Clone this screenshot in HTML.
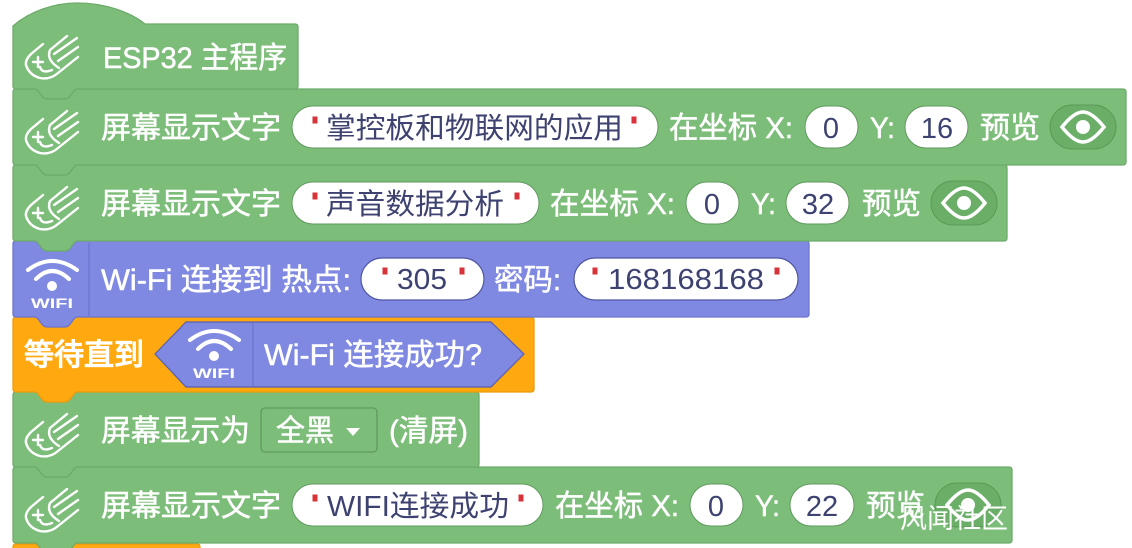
<!DOCTYPE html>
<html><head><meta charset="utf-8"><style>
html,body{margin:0;padding:0;background:#fff;width:1132px;height:548px;overflow:hidden}
svg{display:block}
text{font-family:"Liberation Sans","Noto Sans CJK SC",sans-serif}
.t{fill:#fff;font-size:30px;stroke:#fff;stroke-width:.5}
.v{fill:#3d4270;font-size:29px}
.g{fill:#7dbd7a;stroke:#6dab6b;stroke-width:1.3}
.p{fill:#7f89e2;stroke:#6c75cc;stroke-width:1.3}
.o{fill:#ffa80f;stroke:#ea9b0d;stroke-width:1.3}
.pill{fill:#fff;stroke:#5f9a5e;stroke-width:1}
.pp{fill:#fff;stroke:#4f56a0;stroke-width:1.2}
.q{fill:#d8333a}
</style></head><body>
<svg width="1132" height="548" viewBox="0 0 1132 548" xmlns="http://www.w3.org/2000/svg">
<defs>
<g id="met" fill="none" stroke="#fff" stroke-width="2.4" stroke-linecap="round" stroke-linejoin="round">
<path d="M43 44 L31 54 Q25 60 26 65 Q29 75 40 78 Q50 80 58 73 L78 57"/>
<path d="M67 36 L50 50 Q46 60 59 68"/>
<path d="M77 38 L54 54"/>
<path d="M78 47 L58 61"/>
<path d="M33 62 H43 M38 57 V67"/>
<path d="M40 67 Q42 74 52 70"/>
</g>
<g id="wifi" fill="none" stroke="#fff" stroke-width="4" stroke-linecap="round">
<path d="M-24 -6 Q0 -24 25 -6"/><path d="M-16 3 Q0 -13 17 3"/>
<circle cx="0" cy="10" r="5" fill="#fff" stroke="none"/>
</g>
<g id="eye">
<rect x="-33" y="-22" width="66" height="44" rx="22" fill="#6aae68" stroke="#5a9a58"/>
<path d="M-21 0 Q-9 -15 0 -15 Q9 -15 21 0 Q9 15 0 15 Q-9 15 -21 0 Z" fill="none" stroke="#fff" stroke-width="3.5"/>
<circle r="7" fill="#fff"/>
</g>
<g id="qq"><rect x="-2.5" y="-3.5" width="5" height="7" class="q"/></g>
</defs>

<!-- bottom orange block -->
<path class="o" d="M13 560 V547 Q13 544 16 544 H197 Q200 544 200 547 V560 Z"/>

<!-- block 7 -->
<path class="g" d="M13 470 Q13 467 16 467 H35 C39 467 41 477 47 477 H65 C71 477 73 467 77 467 H1009 Q1012 467 1012 470 V540 Q1012 543 1009 543 H77 C73 543 71 553 65 553 H47 C41 553 39 543 35 543 H16 Q13 543 13 540 Z"/>
<!-- block 6 -->
<path class="g" d="M13 395 Q13 392 16 392 H35 C39 392 41 402 47 402 H65 C71 402 73 392 77 392 H476 Q479 392 479 395 V464 Q479 467 476 467 H77 C73 467 71 477 65 477 H47 C41 477 39 467 35 467 H16 Q13 467 13 464 Z"/>
<!-- block 5 orange -->
<path class="o" d="M13 320 Q13 317 16 317 H35 C39 317 41 327 47 327 H65 C71 327 73 317 77 317 H531 Q534 317 534 320 V389 Q534 392 531 392 H77 C73 392 71 402 65 402 H47 C41 402 39 392 35 392 H16 Q13 392 13 389 Z"/>
<!-- block 4 purple -->
<path class="p" d="M13 244 Q13 241 16 241 H35 C39 241 41 251 47 251 H65 C71 251 73 241 77 241 H806 Q809 241 809 244 V314 Q809 317 806 317 H77 C73 317 71 327 65 327 H47 C41 327 39 317 35 317 H16 Q13 317 13 314 Z"/>
<!-- block 3 -->
<path class="g" d="M13 168 Q13 165 16 165 H35 C39 165 41 175 47 175 H65 C71 175 73 165 77 165 H1004 Q1007 165 1007 168 V238 Q1007 241 1004 241 H77 C73 241 71 251 65 251 H47 C41 251 39 241 35 241 H16 Q13 241 13 238 Z"/>
<!-- block 2 -->
<path class="g" d="M13 92 Q13 89 16 89 H35 C39 89 41 99 47 99 H65 C71 99 73 89 77 89 H1123 Q1126 89 1126 92 V162 Q1126 165 1123 165 H77 C73 165 71 175 65 175 H47 C41 175 39 165 35 165 H16 Q13 165 13 162 Z"/>
<!-- hat -->
<path class="g" d="M13 26 C30 11 55 3 77 3 C105 3 130 12 145 24 H295 Q298 24 298 27 V86 Q298 89 295 89 H77 C73 89 71 99 65 99 H47 C41 99 39 89 35 89 H16 Q13 89 13 86 Z"/>

<!-- hat content -->
<use href="#met"/>
<text class="t" x="103" y="68" textLength="184" lengthAdjust="spacingAndGlyphs">ESP32 主程序</text>

<!-- block 2 content -->
<use href="#met" y="75"/>
<text class="t" x="101" y="138" textLength="180" lengthAdjust="spacingAndGlyphs">屏幕显示文字</text>
<rect class="pill" x="292" y="106" width="366" height="42" rx="21"/>
<use href="#qq" x="315" y="120"/><use href="#qq" x="634" y="120"/>
<text class="v" x="326" y="138" textLength="297" lengthAdjust="spacingAndGlyphs">掌控板和物联网的应用</text>
<text class="t" x="669" y="138" textLength="124" lengthAdjust="spacingAndGlyphs">在坐标 X:</text>
<rect class="pill" x="805" y="106" width="53" height="42" rx="21"/>
<text class="v" x="831" y="138" text-anchor="middle">0</text>
<text class="t" x="870" y="138" textLength="25" lengthAdjust="spacingAndGlyphs">Y:</text>
<rect class="pill" x="905" y="106" width="63" height="42" rx="21"/>
<text class="v" x="937" y="138" text-anchor="middle">16</text>
<text class="t" x="980" y="138" textLength="60" lengthAdjust="spacingAndGlyphs">预览</text>
<use href="#eye" x="1083" y="127"/>

<!-- block 3 content -->
<use href="#met" y="151"/>
<text class="t" x="101" y="214" textLength="180" lengthAdjust="spacingAndGlyphs">屏幕显示文字</text>
<rect class="pill" x="292" y="182" width="247" height="42" rx="21"/>
<use href="#qq" x="315" y="196"/><use href="#qq" x="517" y="196"/>
<text class="v" x="326" y="214" textLength="178" lengthAdjust="spacingAndGlyphs">声音数据分析</text>
<text class="t" x="550" y="214" textLength="125" lengthAdjust="spacingAndGlyphs">在坐标 X:</text>
<rect class="pill" x="686" y="182" width="53" height="42" rx="21"/>
<text class="v" x="712" y="214" text-anchor="middle">0</text>
<text class="t" x="751" y="214" textLength="25" lengthAdjust="spacingAndGlyphs">Y:</text>
<rect class="pill" x="786" y="182" width="63" height="42" rx="21"/>
<text class="v" x="818" y="214" text-anchor="middle">32</text>
<text class="t" x="862" y="214" textLength="59" lengthAdjust="spacingAndGlyphs">预览</text>
<use href="#eye" x="964" y="203"/>

<!-- block 4 content -->
<line x1="89" y1="243" x2="89" y2="316" stroke="#6f78cf" stroke-width="1.5"/>
<use href="#wifi" x="52" y="276"/>
<text x="52" y="308" text-anchor="middle" font-size="14" font-weight="bold" fill="#fff" textLength="42" lengthAdjust="spacingAndGlyphs">WIFI</text>
<text class="t" x="101" y="290" textLength="250" lengthAdjust="spacingAndGlyphs">Wi-Fi 连接到 热点:</text>
<rect class="pp" x="361" y="258" width="123" height="42" rx="21"/>
<use href="#qq" x="385" y="271"/><use href="#qq" x="462" y="271"/>
<text class="v" x="397" y="289" textLength="50" lengthAdjust="spacingAndGlyphs">305</text>
<text class="t" x="494" y="290" textLength="67" lengthAdjust="spacingAndGlyphs">密码:</text>
<rect class="pp" x="574" y="258" width="224" height="42" rx="21"/>
<use href="#qq" x="595" y="271"/><use href="#qq" x="777" y="271"/>
<text class="v" x="608" y="289" textLength="156" lengthAdjust="spacingAndGlyphs">168168168</text>

<!-- block 5 content -->
<text class="t" x="24" y="365" textLength="120" lengthAdjust="spacingAndGlyphs" style="stroke-width:1.2">等待直到</text>
<path d="M155 354 L186 322 H491 L524 354 L491 387 H186 Z" fill="#7f89e2" stroke="#565fb0" stroke-width="1.2"/>
<line x1="253" y1="323" x2="253" y2="386" stroke="#6f78cf" stroke-width="1.5"/>
<use href="#wifi" x="214" y="346"/>
<text x="214" y="378" text-anchor="middle" font-size="14" font-weight="bold" fill="#fff" textLength="42" lengthAdjust="spacingAndGlyphs">WIFI</text>
<text class="t" x="264" y="365" textLength="218" lengthAdjust="spacingAndGlyphs">Wi-Fi 连接成功?</text>

<!-- block 6 content -->
<use href="#met" y="378"/>
<text class="t" x="101" y="441" textLength="149" lengthAdjust="spacingAndGlyphs">屏幕显示为</text>
<rect x="261" y="408" width="116" height="44" rx="4" fill="#7dbd7a" stroke="#5f9a5e" stroke-width="1.3"/>
<text class="t" x="276" y="441" textLength="58" lengthAdjust="spacingAndGlyphs">全黑</text>
<path d="M346 428 H360 L353 436 Z" fill="#fff"/>
<text class="t" x="389" y="441" textLength="79" lengthAdjust="spacingAndGlyphs">(清屏)</text>

<!-- block 7 content -->
<use href="#met" y="453"/>
<text class="t" x="101" y="516" textLength="180" lengthAdjust="spacingAndGlyphs">屏幕显示文字</text>
<rect class="pill" x="292" y="484" width="251" height="42" rx="21"/>
<use href="#qq" x="315" y="498"/><use href="#qq" x="521" y="498"/>
<text class="v" x="327" y="516" textLength="182" lengthAdjust="spacingAndGlyphs">WIFI连接成功</text>
<text class="t" x="555" y="516" textLength="124" lengthAdjust="spacingAndGlyphs">在坐标 X:</text>
<rect class="pill" x="690" y="484" width="53" height="42" rx="21"/>
<text class="v" x="716" y="516" text-anchor="middle">0</text>
<text class="t" x="755" y="516" textLength="25" lengthAdjust="spacingAndGlyphs">Y:</text>
<rect class="pill" x="790" y="484" width="64" height="42" rx="21"/>
<text class="v" x="822" y="516" text-anchor="middle">22</text>
<text class="t" x="866" y="516" textLength="59" lengthAdjust="spacingAndGlyphs">预览</text>
<use href="#eye" x="968" y="505"/>

<!-- watermark -->
<text x="900" y="528" font-size="27" fill="#fff" textLength="108" lengthAdjust="spacingAndGlyphs">风闻社区</text>
</svg>
</body></html>
